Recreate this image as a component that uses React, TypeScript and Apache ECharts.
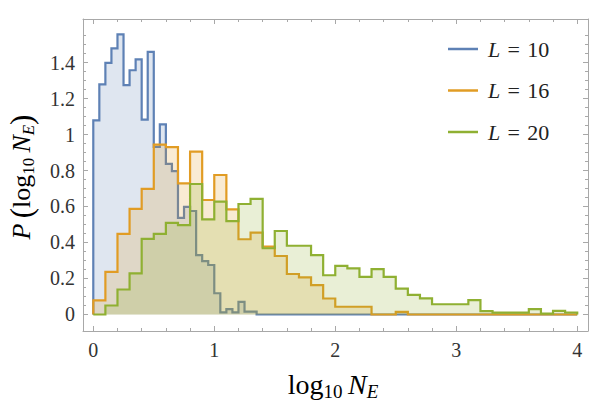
import React, { useEffect, useRef } from "react";
import * as echarts from "echarts";

// Histogram bin widths (log10 N_E units) and axis end
const binWidthL10 = 0.05;
const binWidthL16 = 0.1;
const binWidthL20 = 0.1;
const xEnd = 4;

// Bin heights
const valuesL10 = [
  1.078, 1.278, 1.398, 1.478, 1.556, 1.274, 1.357, 1.417, 1.083, 1.459,
  0.931, 1.056, 0.837, 0.796, 0.537, 0.598, 0.575, 0.33, 0.297, 0.275,
  0.118, 0.012, 0.03, 0.012, 0.07, 0.016, 0.016, 0,
];
const valuesL16 = [
  0.078, 0.237, 0.448, 0.587, 0.698, 0.944, 0.93, 0.728, 0.905, 0.636,
  0.775, 0.584, 0.418, 0.455, 0.377, 0.325, 0.225, 0.206, 0.163, 0.089,
  0.043, 0.043, 0.043, 0, 0, 0.015, 0,
];
const valuesL20 = [
  0, 0.05, 0.139, 0.228, 0.42, 0.448, 0.509, 0.497, 0.725, 0.529,
  0.627, 0.519, 0.614, 0.642, 0.368, 0.464, 0.382, 0.382, 0.33, 0.218,
  0.27, 0.256, 0.209, 0.252, 0.209, 0.144, 0.109, 0.09, 0.057, 0.057,
  0.057, 0.08, 0.019, 0.01, 0.01, 0.01, 0.03, 0.005, 0.02, 0.011,
];

const seriesNames = ["L = 10", "L = 16", "L = 20"];
const seriesColors = ["#5E81B5", "#E19C24", "#8FB032"];

// Tick positions
const xMajorTicks = [0, 1, 2, 3, 4];
const xMinorTicks = [
  0.2, 0.4, 0.6, 0.8, 1.2, 1.4, 1.6, 1.8, 2.2, 2.4, 2.6, 2.8, 3.2, 3.4, 3.6, 3.8,
];
const yMajorTicks = [0, 0.2, 0.4, 0.6, 0.8, 1, 1.2, 1.4];
const yMinorTicks = [
  0.05, 0.1, 0.15, 0.25, 0.3, 0.35, 0.45, 0.5, 0.55, 0.65, 0.7, 0.75, 0.85,
  0.9, 0.95, 1.05, 1.1, 1.15, 1.25, 1.3, 1.35, 1.45, 1.5, 1.55,
];

const FONT = "Liberation Serif";
const FRAME = "#a8a8a8";

function histPoints(values: number[], width: number): number[][] {
  const pts: number[][] = [[0, 0]];
  values.forEach((v, i) => pts.push([+(i * width).toFixed(4), v]));
  const last = +(values.length * width).toFixed(4);
  pts.push([last, 0]);
  if (last < xEnd) pts.push([xEnd, 0]);
  return pts;
}

const X_MIN = -0.085;
const X_MAX = 4.089;
const Y_MIN = -0.0917;
const Y_MAX = 1.6417;

function xAx(position: string, ticks: number[], len: number, main: boolean, labels: boolean) {
  return {
    type: "value",
    position,
    min: X_MIN,
    max: X_MAX,
    axisLine: { show: main, onZero: false, lineStyle: { color: FRAME, width: 1 } },
    axisTick: { show: true, inside: true, length: len, customValues: ticks, lineStyle: { color: FRAME, width: 1 } },
    axisLabel: labels
      ? { show: true, customValues: ticks, margin: 9, fontFamily: FONT, fontSize: 20, color: "#333" }
      : { show: false },
    splitLine: { show: false },
  };
}
function yAx(position: string, ticks: number[], len: number, main: boolean, labels: boolean) {
  return {
    type: "value",
    position,
    min: Y_MIN,
    max: Y_MAX,
    axisLine: { show: main, onZero: false, lineStyle: { color: FRAME, width: 1 } },
    axisTick: { show: true, inside: true, length: len, customValues: ticks, lineStyle: { color: FRAME, width: 1 } },
    axisLabel: labels
      ? { show: true, customValues: ticks, margin: 8, fontFamily: FONT, fontSize: 20, color: "#333" }
      : { show: false },
    splitLine: { show: false },
  };
}

function makeRich(main: number, sub: number, paren: number, lh: number) {
  return {
    n: { fontFamily: FONT, fontSize: main, lineHeight: lh, color: "#222" },
    i: { fontFamily: FONT, fontSize: main, lineHeight: lh, fontStyle: "italic", color: "#222" },
    p: { fontFamily: FONT, fontSize: paren, lineHeight: lh, color: "#222" },
    s: { fontFamily: FONT, fontSize: sub, lineHeight: sub - 2, verticalAlign: "bottom", color: "#222" },
    si: { fontFamily: FONT, fontSize: sub, lineHeight: sub - 2, verticalAlign: "bottom", fontStyle: "italic", color: "#222" },
    sp: { fontFamily: FONT, fontSize: main, lineHeight: lh, color: "#222" },
  };
}

export default function App() {
  const ref = useRef<HTMLDivElement>(null);
  useEffect(() => {
    if (!ref.current) return;
    const chart = echarts.init(ref.current, undefined, { renderer: "svg" });
    const datasets = [
      histPoints(valuesL10, binWidthL10),
      histPoints(valuesL16, binWidthL16),
      histPoints(valuesL20, binWidthL20),
    ];
    chart.setOption({
      animation: false,
      backgroundColor: "#ffffff",
      grid: { left: 83, top: 19, width: 505, height: 312, containLabel: false },
      xAxis: [
        xAx("bottom", xMajorTicks, 5, true, true),
        xAx("bottom", xMinorTicks, 3, false, false),
        xAx("top", xMajorTicks, 5, true, false),
        xAx("top", xMinorTicks, 3, false, false),
      ],
      yAxis: [
        yAx("left", yMajorTicks, 5, true, true),
        yAx("left", yMinorTicks, 3, false, false),
        yAx("right", yMajorTicks, 5, true, false),
        yAx("right", yMinorTicks, 3, false, false),
      ],
      legend: {
        orient: "vertical",
        left: 443,
        top: 31,
        icon: "rect",
        itemWidth: 30,
        itemHeight: 2.5,
        itemGap: 15.5,
        data: seriesNames,
        formatter: (n: string) => "{i|L}" + n.slice(1).replace(/ /g, "\u2004"),
        textStyle: {
          fontFamily: FONT,
          fontSize: 22,
          lineHeight: 26,
          color: "#222",
          padding: [0, 0, 0, 5],
          rich: {
            i: { fontFamily: FONT, fontSize: 22, lineHeight: 26, fontStyle: "italic", color: "#222" },
          },
        },
      },
      series: datasets.map((d, k) => ({
        type: "line",
        name: seriesNames[k],
        step: "end",
        data: d,
        xAxisIndex: 0,
        yAxisIndex: 0,
        showSymbol: false,
        symbol: "none",
        z: 2 + k,
        lineStyle: { color: seriesColors[k], width: 2.2, join: "miter" },
        itemStyle: { color: seriesColors[k] },
        areaStyle: { color: seriesColors[k], opacity: 0.2 },
      })),
      graphic: [
        {
          type: "text",
          x: 333,
          y: 384,
          style: {
            text: "{n|log}{s|10}{sp|\u2009}{i|N}{si|E}",
            rich: makeRich(28, 19, 33, 34),
            fontFamily: FONT,
            fontSize: 28,
            align: "center",
            verticalAlign: "middle",
          },
        },
        {
          type: "text",
          x: 21,
          y: 177,
          rotation: Math.PI / 2,
          style: {
            text: "{i|P}{sp|\u2009}{p|(}{n|log}{s|10}{sp|\u2009}{i|N}{si|E}{p|)}",
            rich: makeRich(26, 17, 31, 32),
            fontFamily: FONT,
            fontSize: 26,
            align: "center",
            verticalAlign: "middle",
          },
        },
      ],
    });
    return () => chart.dispose();
  }, []);
  return (
    <div
      ref={ref}
      style={{ position: "absolute", left: 0, top: 0, width: 600, height: 409 }}
    />
  );
}
